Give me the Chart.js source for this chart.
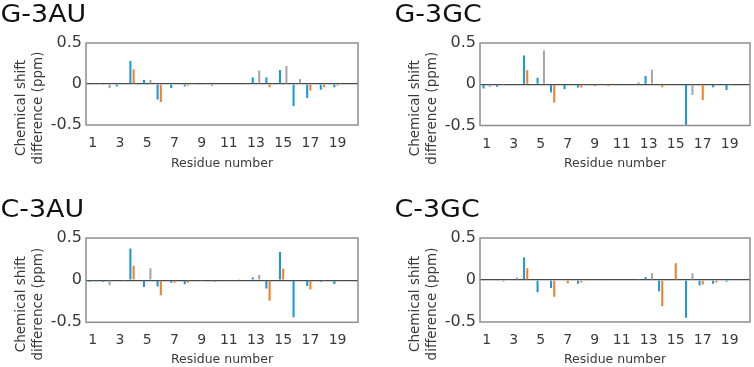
<!DOCTYPE html>
<html>
<head>
<meta charset="utf-8">
<script src="https://cdn.jsdelivr.net/npm/chart.js@4.4.1/dist/chart.umd.min.js"></script>
<style>
  html, body { margin: 0; padding: 0; background: #ffffff; }
  #wrap { position: relative; width: 754px; height: 367px; overflow: hidden; background: #fff; }
  canvas { position: absolute; }
</style>
</head>
<body>
<div id="wrap">
  <canvas id="c1" width="377" height="183" style="left:0;top:0;"></canvas>
  <canvas id="c2" width="377" height="183" style="left:377px;top:0;"></canvas>
  <canvas id="c3" width="377" height="184" style="left:0;top:183px;"></canvas>
  <canvas id="c4" width="377" height="184" style="left:377px;top:183px;"></canvas>
</div>
<script>
// ---- data ----
const residues = ['1','2','3','4','5','6','7','8','9','10','11','12','13','14','15','16','17','18','19','20'];
const yTickValues = [-0.5, 0, 0.5];
const xAxisTitle = 'Residue number';
const yAxisTitle = ['Chemical shift', 'difference (ppm)'];
const panelTitles = ['G-3AU', 'G-3GC', 'C-3AU', 'C-3GC'];

const g3auBlue   = [-0.01, -0.01, -0.03, 0.28, 0.05, -0.19, -0.05, -0.03, -0.01, -0.02, null, null, 0.08, 0.08, 0.17, -0.27, -0.17, -0.07, -0.04, null];
const g3auOrange = [null, null, null, 0.18, null, -0.22, null, -0.02, -0.01, -0.01, null, null, null, -0.04, null, null, -0.08, -0.04, -0.02, null];
const g3auGray   = [-0.01, -0.05, 0.01, null, 0.05, null, null, null, null, null, -0.005, 0.01, 0.165, null, 0.22, 0.06, null, null, null, null];

const g3gcBlue   = [-0.05, -0.03, null, 0.35, 0.08, -0.10, -0.06, -0.04, -0.01, -0.01, null, null, 0.10, null, null, -0.50, null, -0.035, -0.07, null];
const g3gcOrange = [null, null, null, 0.17, null, -0.22, null, -0.04, -0.02, -0.02, null, null, null, -0.035, null, null, -0.19, -0.01, -0.01, null];
const g3gcGray   = [-0.03, -0.01, null, null, 0.41, null, null, null, null, null, -0.005, 0.025, 0.175, null, null, -0.13, null, null, null, null];

const c3auBlue   = [-0.02, -0.02, null, 0.375, -0.08, -0.075, -0.03, -0.05, null, -0.01, null, 0.01, 0.03, -0.10, 0.335, -0.44, -0.07, -0.02, -0.045, null];
const c3auOrange = [null, null, null, 0.17, null, -0.18, -0.03, -0.03, -0.01, -0.02, null, null, null, -0.245, 0.135, null, -0.11, -0.01, null, null];
const c3auGray   = [-0.02, -0.06, -0.005, null, 0.14, null, null, null, null, null, -0.005, null, 0.06, null, null, null, null, null, null, null];

const c3gcBlue   = [-0.01, -0.005, 0.01, 0.27, -0.145, -0.095, null, -0.045, null, -0.005, null, 0.005, 0.035, -0.135, null, -0.45, -0.065, -0.045, -0.02, null];
const c3gcOrange = [null, null, null, 0.14, null, -0.20, -0.04, -0.03, -0.01, -0.01, null, null, null, -0.31, 0.20, null, -0.055, -0.03, null, null];
const c3gcGray   = [-0.005, -0.02, 0.03, null, null, null, null, null, null, null, null, 0.01, 0.08, null, null, 0.08, null, null, null, null];

// ---- styles ----
const BLUE = '#1a98de';
const ORANGE = '#f57f24';
const GRAY = '#a6a6a6';
const TEXT = '#3a3a3a';
const FONT = "'DejaVu Sans', Verdana, sans-serif";

Chart.defaults.font.family = FONT;
Chart.defaults.color = TEXT;

const panelDecor = {
  id: 'panelDecor',
  afterDatasetsDraw(chart) {
    const { ctx, chartArea: a } = chart;
    ctx.save();
    ctx.strokeStyle = '#8e8e8e';
    ctx.lineWidth = 1.5;
    ctx.strokeRect(a.left, a.top, a.right - a.left, a.bottom - a.top);
    ctx.restore();
  },
  afterDraw(chart, args, opts) {
    const { ctx, chartArea: a } = chart;
    ctx.save();
    // panel title (slightly wide lettering as in the original)
    ctx.fillStyle = '#111111';
    ctx.font = '24px ' + FONT;
    ctx.textAlign = 'left';
    ctx.textBaseline = 'alphabetic';
    ctx.save();
    ctx.translate(a.left - 85.5, a.top - 21);
    ctx.scale(1.12, 1);
    ctx.fillText(opts.title, 0, 0);
    ctx.restore();
    // y axis title (two lines, rotated)
    ctx.fillStyle = TEXT;
    ctx.font = '13.5px ' + FONT;
    ctx.textAlign = 'center';
    ctx.textBaseline = 'middle';
    const cy = (a.top + a.bottom) / 2 + 24;
    const xs = [a.left - 65, a.left - 48];
    yAxisTitle.forEach((line, i) => {
      ctx.save();
      ctx.translate(xs[i], cy);
      ctx.rotate(-Math.PI / 2);
      ctx.fillText(line, 0, 0);
      ctx.restore();
    });
    ctx.restore();
  }
};

function makeChart(id, title, blue, orange, gray, g) {
  const ds = (data, color) => ({
    data: data,
    backgroundColor: color,
    borderWidth: 0,
    categoryPercentage: 0.71,
    barPercentage: 0.64
  });
  return new Chart(document.getElementById(id), {
    type: 'bar',
    data: {
      labels: residues,
      datasets: [ds(blue, BLUE), ds(orange, ORANGE), ds(gray, GRAY)]
    },
    plugins: [panelDecor],
    options: {
      responsive: false,
      animation: false,
      devicePixelRatio: 1,
      layout: { padding: { top: g.top, right: g.right, left: 0, bottom: 0 } },
      plugins: {
        legend: { display: false },
        tooltip: { enabled: false },
        title: { display: false },
        panelDecor: { title: title }
      },
      scales: {
        x: {
          grid: { display: false, drawTicks: false },
          border: { display: false },
          ticks: {
            autoSkip: false,
            maxRotation: 0,
            minRotation: 0,
            padding: 10,
            font: { size: 14 },
            color: TEXT,
            callback: function (v) { return (v % 2 === 0) ? residues[v] : ''; }
          },
          title: {
            display: true,
            text: xAxisTitle,
            font: { size: 12.5 },
            color: TEXT,
            padding: { top: 0, bottom: g.xTitlePad }
          },
          afterFit: (s) => { s.height = g.xAxisH; }
        },
        y: {
          min: -0.5,
          max: 0.5,
          grid: {
            drawTicks: false,
            color: (c) => (c.tick && c.tick.value === 0 ? '#4a4a4a' : 'rgba(0,0,0,0)'),
            lineWidth: 1.2
          },
          border: { display: false },
          afterBuildTicks: (s) => { s.ticks = yTickValues.map(v => ({ value: v })); },
          ticks: {
            padding: 4,
            font: { size: 16 },
            color: TEXT,
            callback: (v) => (v === 0 ? '0' : String(v))
          },
          afterFit: (s) => { s.width = g.left; }
        }
      }
    }
  });
}

makeChart('c1', panelTitles[0], g3auBlue, g3auOrange, g3auGray, { left: 86, right: 19, top: 43, xAxisH: 58, xTitlePad: 11.5 });
makeChart('c2', panelTitles[1], g3gcBlue, g3gcOrange, g3gcGray, { left: 103, right: 4, top: 43, xAxisH: 57.5, xTitlePad: 11.5 });
makeChart('c3', panelTitles[2], c3auBlue, c3auOrange, c3auGray, { left: 86, right: 19, top: 55, xAxisH: 44.7, xTitlePad: 0 });
makeChart('c4', panelTitles[3], c3gcBlue, c3gcOrange, c3gcGray, { left: 103, right: 4, top: 55, xAxisH: 45, xTitlePad: 0 });
</script>
</body>
</html>
